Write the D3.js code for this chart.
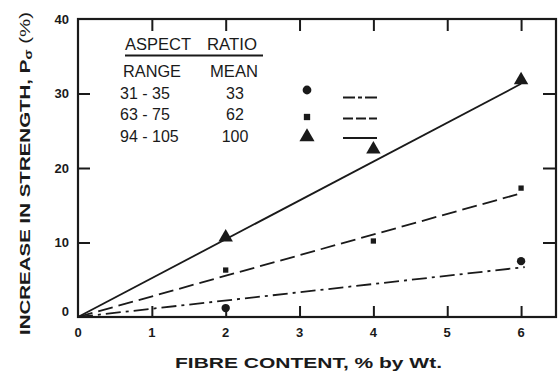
<!DOCTYPE html>
<html>
<head>
<meta charset="utf-8">
<script src="https://cdn.jsdelivr.net/npm/d3@7"></script>
<style>
  body { margin: 0; background: #fff; }
  svg { display: block; font-family: "Liberation Sans", Arial, sans-serif; }
</style>
</head>
<body>
<svg width="559" height="372"></svg>
<script>
  // measured points, fibre content (% by wt) vs increase in strength (%)
  const series = ["33", "62", "100"];
  const ranges = ["31 - 35", "63 - 75", "94 - 105"];
  const means = ["33", "62", "100"];
  const points33 = [[2, 1.2], [6, 7.5]];
  const points62 = [[2, 6.3], [4, 10.2], [6, 17.3]];
  const points100 = [[2, 10.7], [4, 22.5], [6, 31.8]];
  // fitted straight lines through origin
  const fit33 = [[0, 0], [6.05, 6.7]];
  const fit62 = [[0, 0], [6, 16.6]];
  const fit100 = [[0, 0], [6, 31.3]];
  const xTicks = [0, 1, 2, 3, 4, 5, 6];
  const yTicks = [0, 10, 20, 30, 40];

  const svg = d3.select("svg");
  const ink = "#1a1a1a";

  const x = d3.scaleLinear().domain([0, 6.5]).range([78, 558]);
  const y = d3.scaleLinear().domain([0, 40]).range([317, 19]);

  const dashes = { "33": "15,5,3,5", "62": "15,6", "100": null };
  const symbols = { "33": d3.symbolCircle, "62": d3.symbolSquare, "100": d3.symbolTriangle };
  const symSize = { "33": 55, "62": 28, "100": 90 };
  const pts = { "33": points33, "62": points62, "100": points100 };
  const fits = { "33": fit33, "62": fit62, "100": fit100 };

  // frame
  svg.append("rect")
    .attr("x", x(0)).attr("y", y(40))
    .attr("width", x(6.5) - x(0) - 2).attr("height", y(0) - y(40))
    .attr("fill", "none").attr("stroke", ink).attr("stroke-width", 2.2);

  // axes, ticks pointing inward
  const gBottom = svg.append("g").attr("transform", `translate(0,${y(0)})`)
    .call(d3.axisBottom(x).tickValues(xTicks.slice(1)).tickSize(-11).tickFormat(""));
  const gTop = svg.append("g").attr("transform", `translate(0,${y(40)})`)
    .call(d3.axisTop(x).tickValues(xTicks.slice(1)).tickSize(-12).tickFormat(""));
  const gLeft = svg.append("g").attr("transform", `translate(${x(0)},0)`)
    .call(d3.axisLeft(y).tickValues([10, 20, 30]).tickSize(-12).tickFormat(""));
  const gRight = svg.append("g").attr("transform", `translate(${x(6.5) - 2},0)`)
    .call(d3.axisRight(y).tickValues([10, 20, 30]).tickSize(-13).tickFormat(""));
  [gBottom, gTop, gLeft, gRight].forEach(g => {
    g.select(".domain").remove();
    g.selectAll("line").attr("stroke", ink).attr("stroke-width", 2);
  });

  // tick labels
  svg.append("g").selectAll("text").data(xTicks).join("text")
    .attr("x", d => x(d)).attr("y", 337)
    .attr("text-anchor", "middle")
    .attr("font-size", 13).attr("font-weight", "bold").attr("fill", ink)
    .text(d => d);
  svg.append("g").selectAll("text").data(yTicks).join("text")
    .attr("x", 69).attr("y", d => d === 0 ? y(d) - 6 : y(d))
    .attr("dy", "0.35em")
    .attr("text-anchor", "end")
    .attr("font-size", 13).attr("font-weight", "bold").attr("fill", ink)
    .text(d => d);

  // axis titles (wide lettering, stretched to the original length)
  svg.append("text")
    .attr("x", 175).attr("y", 368)
    .attr("font-size", 14.5).attr("font-weight", "bold")
    .attr("textLength", 267).attr("lengthAdjust", "spacingAndGlyphs")
    .attr("fill", ink)
    .text("FIBRE CONTENT, % by Wt.");

  const yt = svg.append("text")
    .attr("transform", "translate(30,335) rotate(-90)")
    .attr("font-size", 14).attr("font-weight", "bold")
    .attr("textLength", 323).attr("lengthAdjust", "spacingAndGlyphs")
    .attr("fill", ink);
  yt.append("tspan").text("INCREASE IN STRENGTH, P");
  yt.append("tspan").attr("font-size", 10).attr("dy", 2).text("σ");
  yt.append("tspan").attr("dy", -2).attr("font-weight", "normal").text(" (%)");

  const line = d3.line().x(d => x(d[0])).y(d => y(d[1]));

  // fit lines
  svg.append("g").selectAll("path").data(series).join("path")
    .attr("d", s => line(fits[s]))
    .attr("fill", "none").attr("stroke", ink).attr("stroke-width", 1.8)
    .attr("stroke-dasharray", s => dashes[s]);

  // markers
  series.forEach(s => {
    svg.append("g").selectAll("path").data(pts[s]).join("path")
      .attr("transform", d => `translate(${x(d[0])},${y(d[1])})`)
      .attr("d", d3.symbol(symbols[s], symSize[s]))
      .attr("fill", ink);
  });

  // legend
  const lg = svg.append("g").attr("fill", ink).attr("font-size", 16);
  lg.append("text").attr("x", 125).attr("y", 50)
    .attr("textLength", 66).attr("lengthAdjust", "spacingAndGlyphs").text("ASPECT");
  lg.append("text").attr("x", 207).attr("y", 50)
    .attr("textLength", 50).attr("lengthAdjust", "spacingAndGlyphs").text("RATIO");
  lg.append("line").attr("x1", 125).attr("x2", 263).attr("y1", 55.5).attr("y2", 55.5)
    .attr("stroke", ink).attr("stroke-width", 1.8);
  lg.append("text").attr("x", 123).attr("y", 77)
    .attr("textLength", 58).attr("lengthAdjust", "spacingAndGlyphs").text("RANGE");
  lg.append("text").attr("x", 210).attr("y", 77)
    .attr("textLength", 48).attr("lengthAdjust", "spacingAndGlyphs").text("MEAN");
  const rowY = [98.5, 120, 141.5];
  const symY = [90, 117, 137];
  const keyY = [97.5, 118.5, 138];
  lg.selectAll(".rng").data(ranges).join("text").attr("class", "rng")
    .attr("x", 120).attr("y", (d, i) => rowY[i]).text(d => d);
  lg.selectAll(".mean").data(means).join("text").attr("class", "mean")
    .attr("x", 235).attr("y", (d, i) => rowY[i]).attr("text-anchor", "middle").text(d => d);
  series.forEach((s, i) => {
    lg.append("path")
      .attr("transform", `translate(307,${symY[i]})`)
      .attr("d", d3.symbol(symbols[s], s === "62" ? 40 : symSize[s] * 1.1));
    lg.append("line")
      .attr("x1", 343).attr("x2", 377)
      .attr("y1", keyY[i]).attr("y2", keyY[i])
      .attr("stroke", ink).attr("stroke-width", 2)
      .attr("stroke-dasharray", s === "33" ? "12,3,4,3" : s === "62" ? "10,3" : null);
  });
</script>
</body>
</html>
